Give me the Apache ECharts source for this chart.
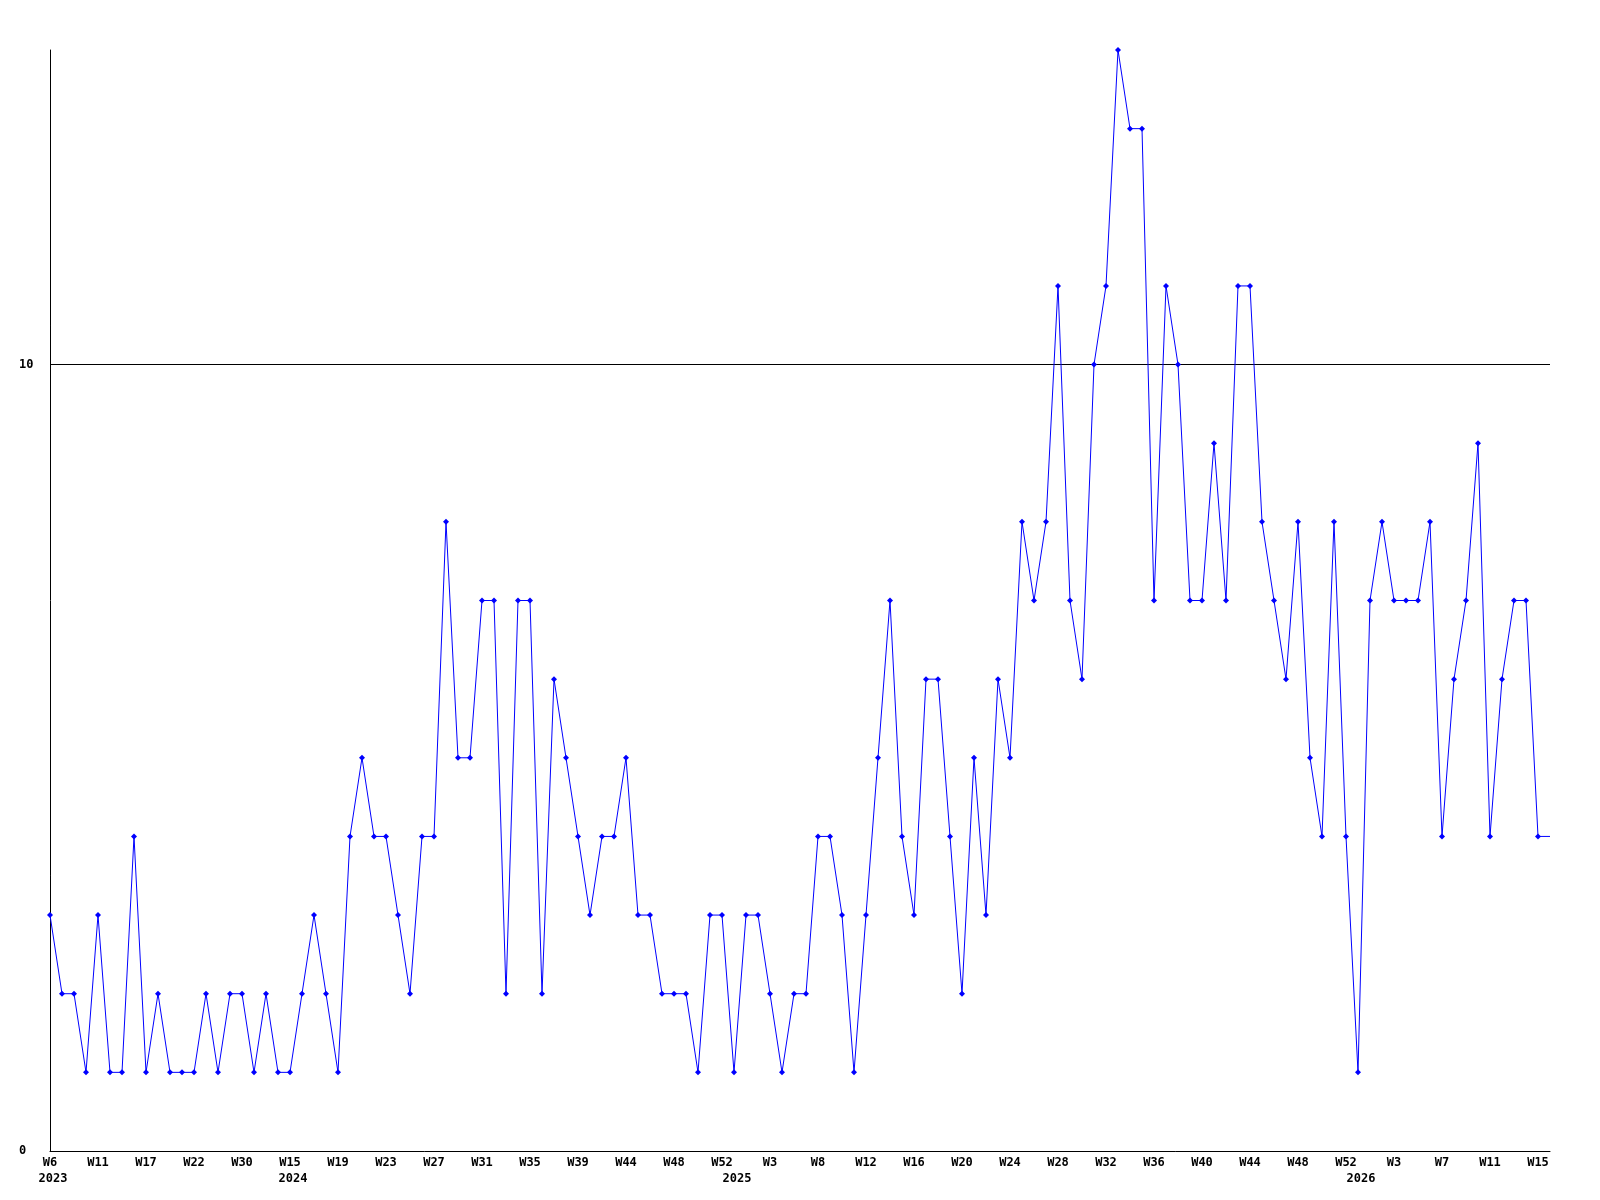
<!DOCTYPE html>
<html>
<head>
<meta charset="utf-8">
<script src="https://cdn.jsdelivr.net/npm/echarts@6/dist/echarts.min.js"></script>
<style>
html, body { margin: 0; padding: 0; background: #ffffff; }
#chart { width: 1600px; height: 1200px; }
</style>
</head>
<body>
<div id="chart"></div>
<script>
// Week numbers of the plotted points, per year
const weeks2023 = [6, 7, 8, 10, 11, 12, 14, 15, 17, 18, 19, 21, 22, 24, 26, 28, 30, 36, 42, 49];
const weeks2024 = [15, 16, 17, 18, 19, 20, 21, 22, 23, 24, 25, 26, 27, 28, 29, 30, 31, 32, 33, 34,
  35, 36, 37, 38, 39, 40, 41, 43, 44, 45, 46, 47, 48, 49, 50, 51, 52];
const weeks2025 = [0, 1, 2, 3, 4, 6, 7, 8, 9, 10, 11, 12, 13, 14, 15, 16, 17, 18, 19, 20,
  21, 22, 23, 24, 25, 26, 27, 28, 29, 30, 31, 32, 33, 34, 35, 36, 37, 38, 39, 40,
  41, 42, 43, 44, 45, 46, 47, 48, 49, 50, 51, 52];
const weeks2026 = [0, 1, 2, 3, 4, 5, 6, 7, 8, 9, 10, 11, 12, 13, 14, 15, 16];

// Weekly counts
const values = [
  3, 2, 2, 1, 3, 1, 1, 4, 1, 2, 1, 1, 1, 2, 1, 2, 2, 1, 2, 1,
  1, 2, 3, 2, 1, 4, 5, 4, 4, 3, 2, 4, 4, 8, 5, 5, 7, 7, 2, 7,
  7, 2, 6, 5, 4, 3, 4, 4, 5, 3, 3, 2, 2, 2, 1, 3, 3, 1, 3, 3,
  2, 1, 2, 2, 4, 4, 3, 1, 3, 5, 7, 4, 3, 6, 6, 4, 2, 5, 3, 6,
  5, 8, 7, 8, 11, 7, 6, 10, 11, 14, 13, 13, 7, 11, 10, 7, 7, 9, 7, 11,
  11, 8, 7, 6, 8, 5, 4, 8, 4, 1, 7, 8, 7, 7, 7, 8, 4, 6, 7, 9,
  4, 6, 7, 7, 4, 4
];

const yMin = 0;
const yMax = 14;
const yStep = 10;
const referenceLevel = 10;

// Build category table "YYYY-Wn"
const categories = []
  .concat(weeks2023.map(w => '2023-W' + w))
  .concat(weeks2024.map(w => '2024-W' + w))
  .concat(weeks2025.map(w => '2025-W' + w))
  .concat(weeks2026.map(w => '2026-W' + w));

const yearOf = c => c.split('-')[0];
const weekOf = c => c.split('-')[1];
const isYearStart = i => i === 0 || yearOf(categories[i]) !== yearOf(categories[i - 1]);

const seriesData = values.map((v, i) => (i === values.length - 1 ? { value: v, symbol: 'none' } : v));

const font = { fontFamily: 'DejaVu Sans Mono', fontWeight: 'bold', fontSize: 12, color: '#000000' };

const chart = echarts.init(document.getElementById('chart'), null, { renderer: 'canvas' });
chart.setOption({
  animation: false,
  backgroundColor: '#ffffff',
  grid: { left: 50, right: 50, top: 50, bottom: 49, containLabel: false },
  xAxis: [
    {
      type: 'category',
      data: categories,
      boundaryGap: false,
      axisLine: { show: true, lineStyle: { color: '#000000', width: 1 } },
      axisTick: { show: false },
      splitLine: { show: false },
      axisLabel: Object.assign({}, font, {
        margin: 6,
        interval: (i) => i % 4 === 0,
        formatter: (v) => weekOf(v)
      })
    },
    {
      type: 'category',
      data: categories,
      position: 'bottom',
      boundaryGap: false,
      axisLine: { show: false },
      axisTick: { show: false },
      splitLine: { show: false },
      axisLabel: Object.assign({}, font, {
        margin: 22,
        padding: [0, 0, 0, 6],
        interval: (i) => isYearStart(i),
        formatter: (v) => yearOf(v)
      })
    }
  ],
  yAxis: {
    type: 'value',
    min: yMin,
    max: yMax,
    interval: yStep,
    axisLine: { show: true, lineStyle: { color: '#000000', width: 1 } },
    axisTick: { show: false },
    splitLine: { show: false },
    axisLabel: Object.assign({}, font, {
      margin: 31,
      align: 'left',
      formatter: (v) => (v % yStep === 0 ? String(v) : '')
    })
  },
  series: [
    {
      type: 'line',
      xAxisIndex: 0,
      data: seriesData,
      symbol: 'diamond',
      symbolSize: 6,
      showSymbol: true,
      showAllSymbol: true,
      lineStyle: { color: '#0000ff', width: 1 },
      itemStyle: { color: '#0000ff' },
      emphasis: { disabled: true },
      markLine: {
        silent: true,
        symbol: 'none',
        label: { show: false },
        lineStyle: { color: '#000000', width: 1, type: 'solid' },
        data: [{ yAxis: referenceLevel }],
        z: 1
      }
    }
  ]
});
</script>
</body>
</html>
